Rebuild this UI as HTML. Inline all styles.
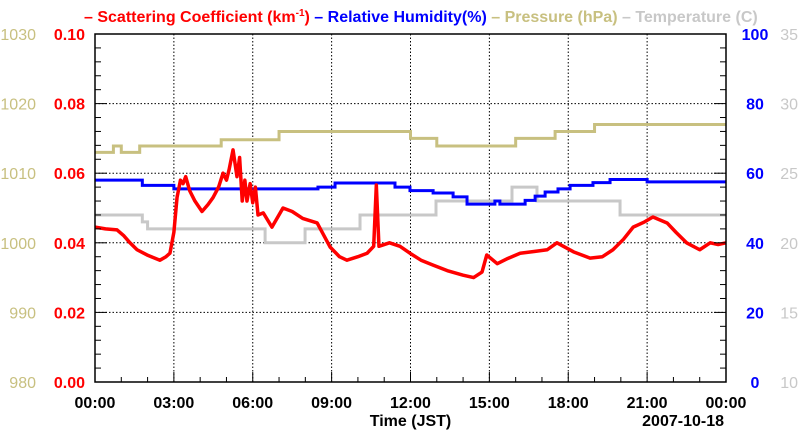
<!DOCTYPE html>
<html><head><meta charset="utf-8"><style>
body{margin:0;background:#fff;}
svg{display:block;font-family:"Liberation Sans",sans-serif;font-weight:bold;}
</style></head><body>
<svg id="c" width="800" height="434" xmlns="http://www.w3.org/2000/svg">
<g id="title" font-size="16">
<text x="84" y="22" fill="#f00">– Scattering Coefficient (km<tspan dy="-6" font-size="10">-1</tspan><tspan dy="6">) </tspan><tspan fill="#00f">– Relative Humidity(%) </tspan><tspan fill="#c8c080">– Pressure (hPa) </tspan><tspan fill="#c8c8c8">– Temperature (C)</tspan></text>
</g>
</svg>
<script>
const hours=[0,0.4,0.84,1.1,1.33,1.6,1.98,2.2,2.47,2.7,2.85,3.0,3.12,3.25,3.35,3.45,3.6,3.8,4.07,4.3,4.49,4.7,4.87,5.0,5.1,5.25,5.4,5.5,5.6,5.7,5.78,5.9,6.0,6.1,6.2,6.4,6.73,7.15,7.5,7.9,8.45,8.94,9.3,9.58,10.0,10.35,10.6,10.7,10.8,11.2,11.6,11.98,12.4,12.86,13.4,14.0,14.4,14.72,14.9,15.3,15.7,16.17,16.7,17.2,17.57,18.2,18.83,19.3,19.7,20.1,20.47,20.9,21.22,21.76,22.1,22.5,23.0,23.4,23.7,24];
const scat=[0.0445,0.044,0.0437,0.042,0.040,0.038,0.0365,0.0358,0.035,0.036,0.037,0.043,0.053,0.058,0.057,0.059,0.055,0.052,0.049,0.051,0.053,0.056,0.060,0.058,0.061,0.0667,0.059,0.0645,0.052,0.058,0.052,0.057,0.0515,0.056,0.048,0.0486,0.0445,0.050,0.049,0.047,0.0457,0.0388,0.036,0.035,0.036,0.037,0.039,0.0566,0.039,0.040,0.039,0.037,0.035,0.0336,0.032,0.0307,0.030,0.0316,0.0365,0.034,0.0355,0.037,0.0375,0.038,0.040,0.0374,0.0356,0.036,0.038,0.041,0.0445,0.046,0.0474,0.0457,0.043,0.040,0.038,0.040,0.0395,0.040];
const rhT=[0,1.8,3,8.48,9.13,11.41,11.98,12.86,13.62,14.15,15.21,15.4,16.36,16.74,17.12,17.61,18.07,18.94,19.59,21,24];
const rhV=[58,56.5,55.5,56,57.2,56,55,54.3,53.2,51.1,52,51.1,52.2,53.4,54.6,55.5,56.5,57.3,58.2,57.5,57.5];
const prT=[0,0.7,1,1.7,4.8,7,12,13,16,17.5,19,24];
const prV=[1013,1013.9,1013,1013.9,1014.8,1016,1015,1013.9,1015,1016,1017,1017];
const tpT=[0,1.8,2.0,6.47,7.99,10.08,12.97,15.86,16.81,19.97,24];
const tpV=[22,21.5,21,20,21,22,23,24,23,22,22];
const xTicks=["00:00","03:00","06:00","09:00","12:00","15:00","18:00","21:00","00:00"];
const scTicks=["0.00","0.02","0.04","0.06","0.08","0.10"];
const rhTicks=["0","20","40","60","80","100"];
const prTicks=["980","990","1000","1010","1020","1030"];
const tpTicks=["10","15","20","25","30","35"];
const L=95,R=726,T=34,B=382;
const X=h=>L+(R-L)*h/24;
const yS=v=>B-(B-T)*v/0.1, yH=v=>B-(B-T)*v/100, yP=v=>B-(B-T)*(v-980)/50, yT=v=>B-(B-T)*(v-10)/25;
const svg=document.getElementById('c');const NS="http://www.w3.org/2000/svg";
function mk(t,a,p){const e=document.createElementNS(NS,t);for(const k in a)e.setAttribute(k,a[k]);(p||svg).appendChild(e);return e;}
for(let i=1;i<8;i++){const g=mk('line',{x1:X(i*3),x2:X(i*3),y1:T,y2:B,stroke:'#000','stroke-dasharray':'1.5,2','stroke-width':1});

}
for(let i=1;i<5;i++){const g=mk('line',{x1:L,x2:R,y1:yS(i*0.02),y2:yS(i*0.02),stroke:'#000','stroke-dasharray':'1.5,2','stroke-width':1});

}
function step(ts,vs,fy,col,name){let d='M'+X(ts[0])+','+fy(vs[0]);for(let i=1;i<ts.length;i++){d+='H'+X(ts[i])+'V'+fy(vs[i]);}d+='H'+X(24);
const p=mk('path',{d:d,fill:'none',stroke:col,'stroke-width':3});

}
step(tpT,tpV,yT,'#c8c8c8','temperature-line');
step(prT,prV,yP,'#c8c080','pressure-line');
step(rhT,rhV,yH,'#0000ff','humidity-line');
const sl=mk('polyline',{points:hours.map((h,i)=>X(h)+','+yS(scat[i])).join(' '),fill:'none',stroke:'#f00','stroke-width':3.5,'stroke-linejoin':'round'});


const fr=mk('rect',{x:L,y:T,width:R-L,height:B-T,fill:'none',stroke:'#000','stroke-width':1.5});


for(let i=0;i<=24;i++){const len=i%3==0?10:5;const t1=mk('line',{x1:X(i),x2:X(i),y1:B,y2:B-len,stroke:'#000'});

}
for(let i=0;i<=25;i++){const v=i*0.004;const len=i%5==0?12:6;const t1=mk('line',{x1:L,x2:L+len,y1:yS(v),y2:yS(v),stroke:'#000'});


const t2=mk('line',{x1:R,x2:R-len,y1:yS(v),y2:yS(v),stroke:'#000'});

}
function txt(s,x,y,anc,col,name,size){const e=mk('text',{x:x,y:y,'text-anchor':anc,fill:col,'font-size':size||16});e.textContent=s;

return e;}
xTicks.forEach((s,i)=>txt(s,X(i*3),408,'middle','#000','x-tick-label'));
scTicks.forEach((s,i)=>txt(s,85,yS(i*0.02)+6,'end','#f00','scattering-tick-label'));
prTicks.forEach((s,i)=>txt(s,36,yS(i*0.02)+6,'end','#c8c080','pressure-tick-label').setAttribute('font-weight','normal'));
rhTicks.forEach((s,i)=>txt(s,755,yS(i*0.02)+6,'middle','#0000ff','humidity-tick-label'));
tpTicks.forEach((s,i)=>txt(s,798,yS(i*0.02)+6,'end','#c8c8c8','temperature-tick-label').setAttribute('font-weight','normal'));
txt('Time (JST)',X(12),426,'middle','#000','x-axis-title');
txt('2007-10-18',X(24)-2,426,'end','#000','date-label');
</script>
</body></html>
